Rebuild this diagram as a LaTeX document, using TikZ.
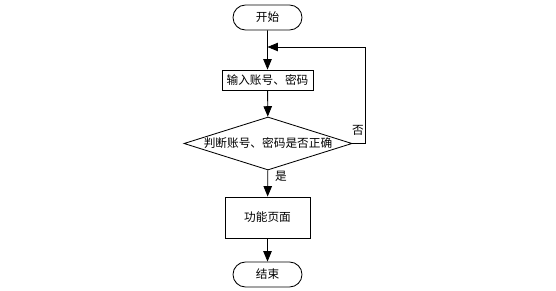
\documentclass[tikz,border=0pt]{standalone}
\usepackage{fontspec}
\setmainfont{Noto Sans CJK SC}
\usepackage{tikz}
\usetikzlibrary{arrows.meta,shapes.geometric,shapes.misc}

\tikzset{
  flowline/.style={line width=0.6pt, draw=black},
  arrowline/.style={flowline, -{Triangle[length=2.6mm, width=2.1mm]}},
  terminal/.style={rounded rectangle, draw, flowline, minimum width=1.725cm,
    minimum height=0.625cm, inner sep=0pt},
  stepbox/.style={rectangle, draw, flowline, inner sep=0pt},
  checkbox/.style={diamond, draw, flowline, inner sep=0pt, aspect=3.17,
    minimum width=4.2cm, minimum height=1.325cm},
  cjktext/.style={font=\fontsize{8.3}{10}\selectfont}
}

\begin{document}
\begin{tikzpicture}[x=0.025cm, y=-0.025cm, every node/.style={cjktext}]
  \useasboundingbox (0,0) rectangle (556,290);

  % nodes of the flow
  \node[terminal] (start) at (267.5,17.5) {开始};
  \node[stepbox, minimum width=2.275cm, minimum height=0.5cm]
    (input) at (267.5,80) {输入账号、密码};
  \node[checkbox] (check) at (268,143.5) {判断账号、密码是否正确};
  \node[stepbox, minimum width=2.125cm, minimum height=1.025cm]
    (func) at (267.5,217.5) {功能页面};
  \node[terminal] (stop) at (267.5,274.5) {结束};

  \coordinate (loopin) at (267.5,47);

  % connectors
  \draw[arrowline] (start) -- (input);
  \draw[arrowline] (input) -- (check);
  \draw[arrowline] (check) -- (func);
  \draw[arrowline] (func) -- (stop);
  \draw[arrowline] (check.east) -- ++(13,0) |- (loopin);

  % labels
  \node at (358,130) {否};
  \node at (281,176) {是};
\end{tikzpicture}
\end{document}
